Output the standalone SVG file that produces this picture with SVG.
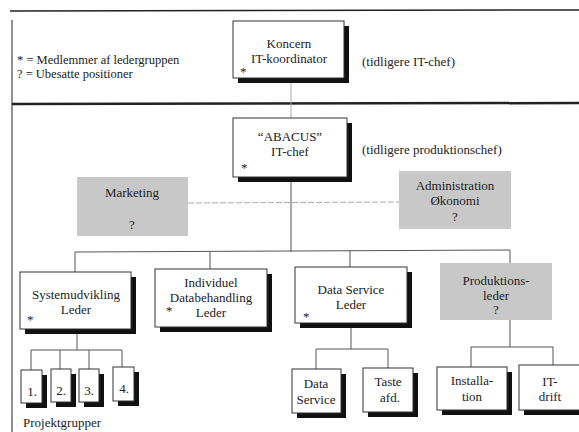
<svg xmlns="http://www.w3.org/2000/svg" width="579" height="432" viewBox="0 0 579 432">
<style>
text{font-family:"Liberation Serif","DejaVu Serif","Times New Roman",serif;font-size:13px;fill:#222;}
.c{text-anchor:middle;}
.lg{font-size:12.5px;}
.box{fill:#fff;stroke:#333;stroke-width:1;}
.sh{fill:#111;}
.gray{fill:#c8c8c8;stroke:none;}
.ln{stroke:#555;stroke-width:1;fill:none;}
.lt{stroke:#aaa;stroke-width:1;fill:none;}
.rule{stroke:#222;fill:none;}
</style>
<rect width="579" height="432" fill="#fff"/>
<g id="frame">
<line class="rule" x1="10" y1="11" x2="579" y2="10" stroke-width="1.5"/>
<line class="rule" x1="12" y1="104" x2="579" y2="103" stroke-width="2.5"/>
<line class="rule" x1="12" y1="20" x2="12" y2="432" stroke="#666" stroke-width="1"/>
</g>
<g id="legend">
<text class="lg" x="17" y="64">* = Medlemmer af ledergruppen</text>
<text class="lg" x="17" y="78">? = Ubesatte positioner</text>
</g>
<g id="connectors">
<line class="lt" x1="291" y1="78" x2="291" y2="118"/>
<line class="ln" x1="291" y1="177" x2="291" y2="252"/>
<line class="lt" x1="188" y1="203" x2="399" y2="202" stroke-dasharray="6 2"/>
<polyline class="ln" points="75,272 75,252 510,250 510,263"/>
<line class="ln" x1="210" y1="252" x2="210" y2="269"/>
<line class="ln" x1="350" y1="251" x2="350" y2="267"/>
<line class="ln" x1="77" y1="329" x2="77" y2="350"/>
<polyline class="ln" points="31,370 31,350 122,350 122,367"/>
<line class="ln" x1="60" y1="350" x2="60" y2="369"/>
<line class="ln" x1="89" y1="350" x2="89" y2="369"/>
<line class="ln" x1="351" y1="323" x2="351" y2="349"/>
<polyline class="ln" points="316,369 316,349 388,349 388,368"/>
<line class="ln" x1="510" y1="320" x2="510" y2="347"/>
<polyline class="ln" points="471,367 471,347 553,347 553,365"/>
</g>
<g id="koncern">
<rect class="sh" x="238" y="26" width="111" height="57"/>
<rect class="box" x="233" y="21" width="111" height="57"/>
<text class="c" x="289" y="48">Koncern</text>
<text class="c" x="289" y="63">IT-koordinator</text>
<text x="240" y="76">*</text>
</g>
<text x="362" y="66">(tidligere  IT-chef)</text>
<g id="abacus">
<rect class="sh" x="238" y="123" width="114" height="59"/>
<rect class="box" x="233" y="118" width="114" height="59"/>
<text class="c" x="290" y="141">“ABACUS”</text>
<text class="c" x="290" y="156">IT-chef</text>
<text x="241" y="172">*</text>
</g>
<text x="362" y="154">(tidligere produktionschef)</text>
<g id="marketing">
<rect class="gray" x="77" y="177" width="111" height="59"/>
<text class="c" x="132" y="197">Marketing</text>
<text class="c" x="132" y="229">?</text>
</g>
<g id="administration">
<rect class="gray" x="399" y="171" width="112" height="58"/>
<text class="c" x="455" y="190">Administration</text>
<text class="c" x="455" y="205">Økonomi</text>
<text class="c" x="455" y="221">?</text>
</g>
<g id="systemudvikling">
<rect class="sh" x="25" y="277" width="111" height="57"/>
<rect class="box" x="20" y="272" width="111" height="57"/>
<text class="c" x="76" y="299">Systemudvikling</text>
<text class="c" x="76" y="314">Leder</text>
<text x="27" y="324">*</text>
</g>
<g id="individuel">
<rect class="sh" x="160" y="274" width="112" height="58"/>
<rect class="box" x="155" y="269" width="112" height="58"/>
<text class="c" x="211" y="287">Individuel</text>
<text class="c" x="211" y="302">Databehandling</text>
<text class="c" x="211" y="317">Leder</text>
<text x="166" y="315">*</text>
</g>
<g id="dataserviceleder">
<rect class="sh" x="300" y="272" width="112" height="56"/>
<rect class="box" x="295" y="267" width="112" height="56"/>
<text class="c" x="351" y="294">Data Service</text>
<text class="c" x="351" y="309">Leder</text>
<text x="303" y="321">*</text>
</g>
<g id="produktionsleder">
<rect class="gray" x="440" y="263" width="112" height="57"/>
<text class="c" x="496" y="285">Produktions-</text>
<text class="c" x="496" y="300">leder</text>
<text class="c" x="496" y="314">?</text>
</g>
<g id="p1">
<rect class="sh" x="26" y="375" width="21" height="33"/>
<rect class="box" x="21" y="370" width="21" height="33"/>
<text class="c" x="32" y="396">1.</text>
</g>
<g id="p2">
<rect class="sh" x="56" y="374" width="20" height="33"/>
<rect class="box" x="51" y="369" width="20" height="33"/>
<text class="c" x="61" y="395">2.</text>
</g>
<g id="p3">
<rect class="sh" x="84" y="374" width="20" height="33"/>
<rect class="box" x="79" y="369" width="20" height="33"/>
<text class="c" x="89" y="395">3.</text>
</g>
<g id="p4">
<rect class="sh" x="118" y="372" width="21" height="34"/>
<rect class="box" x="113" y="367" width="21" height="34"/>
<text class="c" x="124" y="393">4.</text>
</g>
<text x="23" y="427">Projektgrupper</text>
<g id="dataservice">
<rect class="sh" x="297" y="374" width="49" height="44"/>
<rect class="box" x="292" y="369" width="49" height="44"/>
<text class="c" x="316" y="388">Data</text>
<text class="c" x="316" y="404">Service</text>
</g>
<g id="taste">
<rect class="sh" x="368" y="373" width="50" height="44"/>
<rect class="box" x="363" y="368" width="50" height="44"/>
<text class="c" x="388" y="386">Taste</text>
<text class="c" x="390" y="402">afd.</text>
</g>
<g id="installation">
<rect class="sh" x="442" y="372" width="70" height="43"/>
<rect class="box" x="437" y="367" width="70" height="43"/>
<text class="c" x="472" y="385">Installa-</text>
<text class="c" x="472" y="401">tion</text>
</g>
<g id="itdrift">
<rect class="sh" x="524" y="370" width="60" height="45"/>
<rect class="box" x="519" y="365" width="62" height="45"/>
<text class="c" x="550" y="386">IT-</text>
<text class="c" x="550" y="401">drift</text>
</g>
</svg>
